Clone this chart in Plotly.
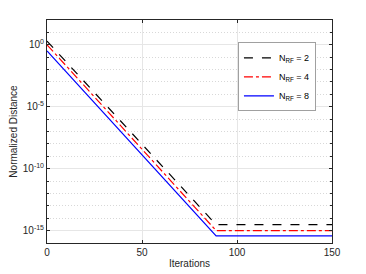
import plotly.graph_objects as go

# Data (vertices of piecewise-straight curves on log scale)
iters = [0, 89, 150]
dist_nrf2 = [2.0, 3.0e-15, 3.0e-15]
dist_nrf4 = [1.0, 1.0e-15, 1.0e-15]
dist_nrf8 = [0.32, 3.7e-16, 3.7e-16]
series_names = ["N<sub>RF</sub> = 2", "N<sub>RF</sub> = 4", "N<sub>RF</sub> = 8"]
y_tick_vals = [1e-15, 1e-10, 1e-5, 1]
y_tick_text = ["10<sup>-15</sup>", "10<sup>-10</sup>", "10<sup>-5</sup>", "10<sup>0</sup>"]
x_tick_vals = [0, 50, 100, 150]

font = "Liberation Sans, Arial, Helvetica, sans-serif"
axcol = "#262626"

fig = go.Figure()
styles = [("black", "dash"), ("red", "dashdot"), ("blue", "solid")]
for ys, name, (c, d) in zip([dist_nrf2, dist_nrf4, dist_nrf8], series_names, styles):
    fig.add_trace(go.Scatter(x=iters, y=ys, mode="lines", name=name,
                             line=dict(color=c, dash=d, width=1.2)))

fig.update_layout(
    width=358, height=266,
    margin=dict(l=39, r=34, t=12, b=31, autoexpand=False),
    paper_bgcolor="white", plot_bgcolor="white",
    font=dict(family=font, size=10, color=axcol),
    showlegend=True,
    legend=dict(x=0.67, y=0.9, xanchor="left", yanchor="top",
                bgcolor="white", bordercolor="#a0a0a0", borderwidth=1,
                font=dict(size=9, color="black"), tracegroupgap=0,
                itemwidth=30),
    xaxis=dict(range=[0, 150], tickvals=x_tick_vals, showline=True, mirror="ticks",
               linecolor=axcol, linewidth=1, ticks="inside", ticklen=3, tickcolor=axcol,
               showgrid=True, gridcolor="#e6e6e6", gridwidth=1, zeroline=False,
               automargin=False,
               title=dict(text="Iterations", font=dict(size=10), standoff=2)),
    yaxis=dict(type="log", range=[-16, 2], tickvals=y_tick_vals, ticktext=y_tick_text,
               showline=True, mirror="ticks", linecolor=axcol, linewidth=1,
               ticks="inside", ticklen=3, tickcolor=axcol,
               showgrid=True, gridcolor="#e6e6e6", gridwidth=1, zeroline=False,
               automargin=False,
               minor=dict(tickvals=[10.0 ** k for k in range(-16, 3)], showgrid=True,
                          gridcolor="#d8d8d8", griddash="1px,2px", gridwidth=1,
                          ticks="inside", ticklen=2, tickcolor=axcol),
               title=dict(text="Normalized Distance", font=dict(size=10), standoff=3)),
)

fig.write_html("out.html")
